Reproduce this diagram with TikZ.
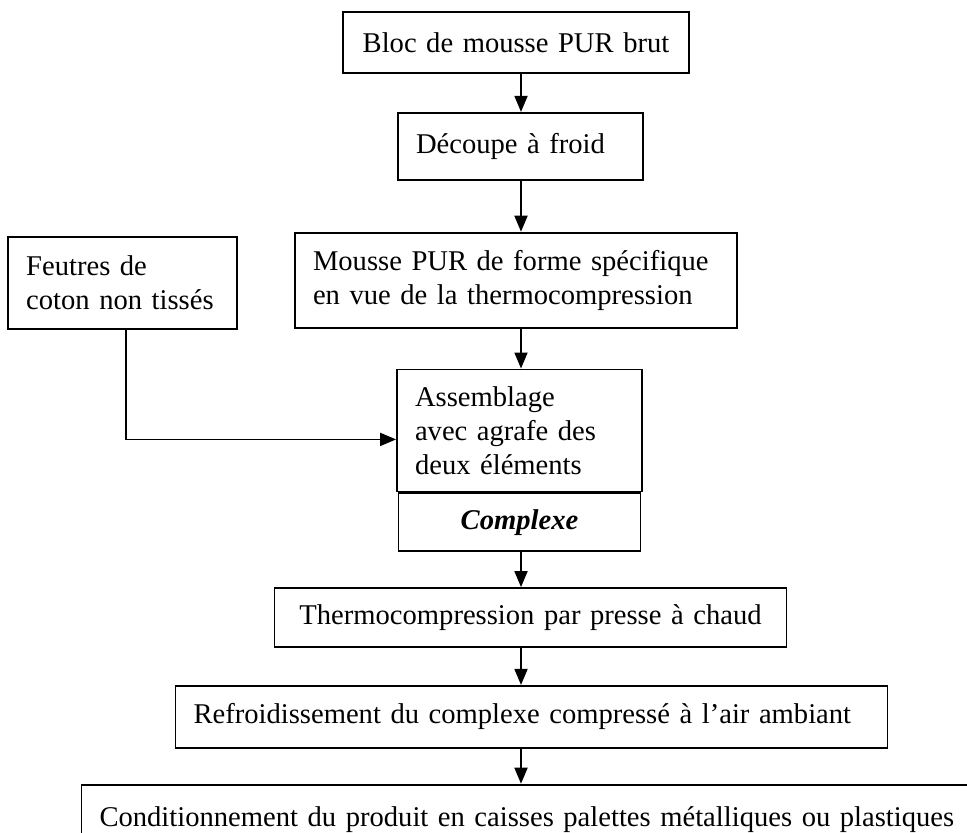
\documentclass[tikz,border=0pt]{standalone}
\usepackage{fontspec}
\setmainfont{Liberation Serif}
\usepackage{tikz}
\usetikzlibrary{arrows.meta, positioning}

\begin{document}
\begin{tikzpicture}[
        node distance = 18pt and 28pt,
        stepbox/.style = {draw, line width=0.9pt, rectangle, inner xsep=9pt, inner ysep=2pt, align=left, text width=#1, font=\fontsize{14.3}{17}\selectfont},
        arrow/.style = {line width=0.9pt, -{Triangle[length=8pt,width=6.5pt]}}
    ]
        \useasboundingbox (0pt,0pt) rectangle (483.5pt,-416pt);

        % Nodes
        \node [stepbox=165pt, inner xsep=4pt, align=center, minimum height=30.5pt] (bloc) at (258pt,-21.25pt) {Bloc de mousse PUR brut};
        \node [stepbox=104.5pt, minimum height=33.5pt, below=19pt of bloc, xshift=2.25pt] (decoupe) {Découpe à froid};
        \node [stepbox=203pt, minimum height=47.5pt, below=25.5pt of decoupe, xshift=-2.25pt] (mousse) {Mousse PUR de forme spécifique\\en vue de la thermocompression};
        \node [stepbox=96.5pt, minimum height=46pt, left=28pt of mousse, yshift=-1.25pt] (feutres) {Feutres de\\coton non tissés};
        \node [stepbox=104.5pt, minimum height=61pt, below=20pt of mousse, xshift=1.75pt] (assemblage) {Assemblage\\avec agrafe des\\deux éléments};
        \node [stepbox=103pt, align=center, minimum height=29pt, below=0pt of assemblage] (complexe) {\textbf{\textit{Complexe}}};
        \node [stepbox=238pt, align=center, minimum height=29.5pt, below=17.5pt of complexe, xshift=5.5pt] (thermo) {Thermocompression par presse à chaud};
        \node [stepbox=338pt, minimum height=31pt, below=18.5pt of thermo, xshift=0.5pt] (refroid) {Refroidissement du complexe compressé à l’air ambiant};
        \node [stepbox=440pt, minimum height=35pt, below=17.5pt of refroid, xshift=4pt] (cond) {Conditionnement du produit en caisses palettes métalliques ou plastiques};

        \coordinate (spine) at (260.5pt,0pt);

        % Connectors
        \draw [arrow] (spine |- bloc.south) -- (spine |- decoupe.north);
        \draw [arrow] (spine |- decoupe.south) -- (spine |- mousse.north);
        \draw [arrow] (spine |- mousse.south) -- (spine |- assemblage.north);
        \draw [arrow] (spine |- complexe.south) -- (spine |- thermo.north);
        \draw [arrow] (spine |- thermo.south) -- (spine |- refroid.north);
        \draw [arrow] (spine |- refroid.south) -- (spine |- cond.north);
        \draw [arrow] ([xshift=1.75pt]feutres.south) |- ([yshift=-4.5pt]assemblage.west);
    \end{tikzpicture}
\end{document}
